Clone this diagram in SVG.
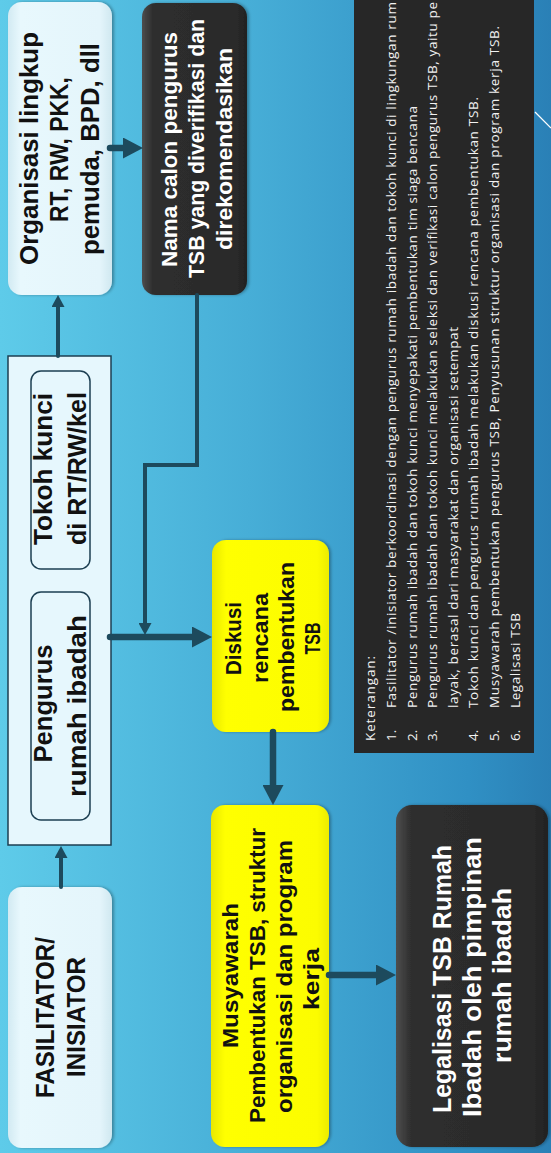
<svg xmlns="http://www.w3.org/2000/svg" width="551" height="1153" viewBox="0 0 551 1153">
<defs>
<style>
.lbl{font-family:"Liberation Sans",Arial,sans-serif;font-weight:bold;text-anchor:middle}
.blk{fill:#111111}
.wht{fill:#ffffff}
.note{font-family:"Open Sans","Liberation Sans",sans-serif;font-size:13.5px;fill:#f2f2f2}
.conn{fill:none;stroke:#1d4a5d;stroke-linecap:round;stroke-linejoin:miter}
.thick{stroke-width:6.5}
.thin{stroke-width:4}
.light{fill:url(#gLight)}
.dark{fill:url(#gDark)}
.yel{fill:url(#gYel)}
.inner{fill:none;stroke:#1c3f52;stroke-width:1.5}
</style>
<linearGradient id="bg" x1="0" y1="0" x2="551" y2="0" gradientUnits="userSpaceOnUse">
<stop offset="0" stop-color="#5ecbe9"/>
<stop offset="0.45" stop-color="#47aed7"/>
<stop offset="0.85" stop-color="#3090c4"/>
<stop offset="1" stop-color="#2a80b6"/>
</linearGradient>
<linearGradient id="gLight" x1="0" y1="0" x2="0" y2="1">
<stop offset="0" stop-color="#d2eaf2"/>
<stop offset="0.12" stop-color="#e8f8fd"/>
<stop offset="0.88" stop-color="#e4f5fb"/>
<stop offset="1" stop-color="#d0e8f0"/>
</linearGradient>
<linearGradient id="gDark" x1="0" y1="0" x2="0" y2="1">
<stop offset="0" stop-color="#4e4e4e"/>
<stop offset="0.1" stop-color="#2e2e2e"/>
<stop offset="0.9" stop-color="#2a2a2a"/>
<stop offset="1" stop-color="#222222"/>
</linearGradient>
<linearGradient id="gYel" x1="0" y1="0" x2="0" y2="1">
<stop offset="0" stop-color="#e8e800"/>
<stop offset="0.12" stop-color="#ffff00"/>
<stop offset="0.9" stop-color="#fcfc00"/>
<stop offset="1" stop-color="#ecec00"/>
</linearGradient>
<marker id="ahBig" markerUnits="userSpaceOnUse" viewBox="0 0 20 21" markerWidth="20" markerHeight="21" refX="0" refY="10.5" orient="auto">
<path d="M0,0 L20,10.5 L0,21 z" fill="#1d4a5d"/>
</marker>
<marker id="ahSmall" markerUnits="userSpaceOnUse" viewBox="0 0 12 13" markerWidth="12" markerHeight="13" refX="0" refY="6.5" orient="auto">
<path d="M0,0 L12,6.5 L0,13 z" fill="#1d4a5d"/>
</marker>
<filter id="sh" x="-5%" y="-10%" width="110%" height="125%">
<feDropShadow dx="0" dy="2" stdDeviation="1.5" flood-color="#000000" flood-opacity="0.3"/>
</filter>
</defs>

<rect x="0" y="0" width="551" height="1153" fill="url(#bg)"/>
<line x1="535" y1="112" x2="551" y2="128" stroke="#ffffff" stroke-width="1.2"/>

<g transform="translate(0,1153) rotate(-90)">

<g id="keterangan">
<rect x="400" y="354" width="753" height="180" fill="#272727"/>
<text class="note" x="412" y="375" textLength="85">Keterangan:</text>
<text class="note" x="412" y="396">1.</text>
<text class="note" x="445" y="396" textLength="706">Fasilitator /inisiator berkoordinasi dengan pengurus rumah ibadah dan tokoh kunci di lingkungan rum</text>
<text class="note" x="412" y="416.5">2.</text>
<text class="note" x="445" y="416.5" textLength="602">Pengurus rumah ibadah dan tokoh kunci menyepakati pembentukan tim siaga bencana</text>
<text class="note" x="412" y="437">3.</text>
<text class="note" x="445" y="437" textLength="706">Pengurus rumah ibadah dan tokoh kunci melakukan seleksi dan verifikasi calon pengurus TSB, yaitu pe</text>
<text class="note" x="445" y="457.5" textLength="381">layak, berasal dari masyarakat dan organisasi setempat</text>
<text class="note" x="412" y="478">4.</text>
<text class="note" x="445" y="478" textLength="611">Tokoh kunci dan pengurus rumah ibadah melakukan diskusi rencana pembentukan TSB.</text>
<text class="note" x="412" y="499">5.</text>
<text class="note" x="445" y="499" textLength="682">Musyawarah pembentukan pengurus TSB, Penyusunan struktur organisasi dan program kerja TSB.</text>
<text class="note" x="412" y="520">6.</text>
<text class="note" x="445" y="520" textLength="95">Legalisasi TSB</text>
</g>

<g id="fasilitator">
<rect x="5" y="8" width="261" height="104" rx="14" class="light" filter="url(#sh)"/>
<text class="lbl blk" font-size="26" x="135.5" y="54" textLength="161" lengthAdjust="spacingAndGlyphs">FASILITATOR/</text>
<text class="lbl blk" font-size="26" x="136" y="85" textLength="120" lengthAdjust="spacingAndGlyphs">INISIATOR</text>
</g>

<g id="kelompok">
<rect x="308" y="8" width="489" height="103" fill="#e6f7fd" stroke="#1c3f52" stroke-width="1.5"/>
</g>

<g id="pengurus">
<rect x="333" y="31" width="228" height="59" rx="10" class="inner"/>
<text class="lbl blk" font-size="25" x="449.5" y="52" textLength="118" lengthAdjust="spacingAndGlyphs">Pengurus</text>
<text class="lbl blk" font-size="25" x="447" y="86" textLength="182" lengthAdjust="spacingAndGlyphs">rumah ibadah</text>
</g>

<g id="tokoh">
<rect x="584" y="31" width="198" height="59" rx="10" class="inner"/>
<text class="lbl blk" font-size="25" x="684" y="52" textLength="152" lengthAdjust="spacingAndGlyphs">Tokoh kunci</text>
<text class="lbl blk" font-size="25" x="684.5" y="86" textLength="153" lengthAdjust="spacingAndGlyphs">di RT/RW/kel</text>
</g>

<g id="organisasi">
<rect x="858" y="8" width="293" height="104" rx="14" class="light" filter="url(#sh)"/>
<text class="lbl blk" font-size="26" x="1004.5" y="38" textLength="233" lengthAdjust="spacingAndGlyphs">Organisasi lingkup</text>
<text class="lbl blk" font-size="26" x="1003.5" y="68" textLength="145" lengthAdjust="spacingAndGlyphs">RT, RW, PKK,</text>
<text class="lbl blk" font-size="26" x="1004" y="99" textLength="212" lengthAdjust="spacingAndGlyphs">pemuda, BPD, dll</text>
</g>

<g id="namacalon">
<rect x="858" y="142" width="292" height="105" rx="14" class="dark" filter="url(#sh)"/>
<text class="lbl wht" font-size="22" x="1003.5" y="177" textLength="235" lengthAdjust="spacingAndGlyphs">Nama calon pengurus</text>
<text class="lbl wht" font-size="22" x="1004.5" y="204" textLength="259" lengthAdjust="spacingAndGlyphs">TSB yang diverifikasi dan</text>
<text class="lbl wht" font-size="22" x="1004" y="232" textLength="202" lengthAdjust="spacingAndGlyphs">direkomendasikan</text>
</g>

<g id="diskusi">
<rect x="421" y="212" width="192" height="117" rx="14" class="yel" filter="url(#sh)"/>
<text class="lbl blk" font-size="22" x="514.5" y="241" textLength="73" lengthAdjust="spacingAndGlyphs">Diskusi</text>
<text class="lbl blk" font-size="22" x="515" y="268" textLength="90" lengthAdjust="spacingAndGlyphs">rencana</text>
<text class="lbl blk" font-size="22" x="516" y="294" textLength="150" lengthAdjust="spacingAndGlyphs">pembentukan</text>
<text class="lbl blk" font-size="22" x="514.5" y="320" textLength="32" lengthAdjust="spacingAndGlyphs">TSB</text>
</g>

<g id="musyawarah">
<rect x="6" y="211" width="342" height="118" rx="14" class="yel" filter="url(#sh)"/>
<text class="lbl blk" font-size="22" x="177.5" y="238" textLength="145" lengthAdjust="spacingAndGlyphs">Musyawarah</text>
<text class="lbl blk" font-size="22" x="177.5" y="265" textLength="295" lengthAdjust="spacingAndGlyphs">Pembentukan TSB, struktur</text>
<text class="lbl blk" font-size="22" x="176.5" y="292" textLength="273" lengthAdjust="spacingAndGlyphs">organisasi dan program</text>
<text class="lbl blk" font-size="22" x="174" y="319" textLength="62" lengthAdjust="spacingAndGlyphs">kerja</text>
</g>

<g id="legalisasi">
<rect x="6" y="396" width="342" height="152" rx="16" class="dark" filter="url(#sh)"/>
<text class="lbl wht" font-size="25" x="174" y="451" textLength="268" lengthAdjust="spacingAndGlyphs">Legalisasi TSB Rumah</text>
<text class="lbl wht" font-size="25" x="176" y="481" textLength="280" lengthAdjust="spacingAndGlyphs">Ibadah oleh pimpinan</text>
<text class="lbl wht" font-size="25" x="177.5" y="511" textLength="175" lengthAdjust="spacingAndGlyphs">rumah ibadah</text>
</g>

<g id="connectors">
<path class="conn thin" d="M266 61 H295" marker-end="url(#ahSmall)"/>
<path class="conn thin" d="M797 58 H846" marker-end="url(#ahSmall)"/>
<path class="conn thick" d="M1005 110 V123" marker-end="url(#ahBig)"/>
<path class="conn thin" d="M858 197 H688 V145 H530" marker-end="url(#ahSmall)"/>
<path class="conn thick" d="M516 110 V192" marker-end="url(#ahBig)"/>
<path class="conn thick" d="M421 273 H368" marker-end="url(#ahBig)"/>
<path class="conn thick" d="M178 329 V376" marker-end="url(#ahBig)"/>
</g>

</g>
</svg>
